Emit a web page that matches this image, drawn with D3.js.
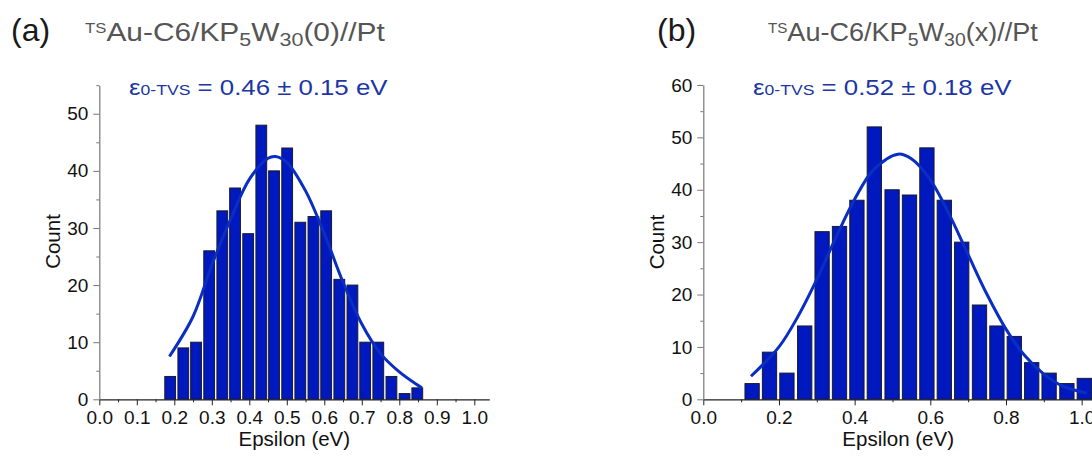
<!DOCTYPE html>
<html><head><meta charset="utf-8">
<script src="https://cdn.jsdelivr.net/npm/d3@7"></script>
<style>
html,body{margin:0;padding:0;background:#fff;}
svg{display:block;font-family:"Liberation Sans",Arial,sans-serif;}
</style></head>
<body><svg id="c" width="1092" height="461"></svg>
<script>
// ---- data ----
const binsA = [0.189,0.224,0.258,0.293,0.328,0.362,0.397,0.432,0.466,0.501,0.536,0.571,0.605,0.640,0.675,0.709,0.744,0.779,0.814,0.848];
const countsA = [4,9,10,26,33,37,29,48,40,44,31,32,33,21,20,10,10,4,1,2];
const fitXA = [0.187,0.25,0.30,0.35,0.40,0.45,0.47,0.50,0.55,0.60,0.65,0.70,0.75,0.80,0.86];
const fitYA = [7.5,14.5,23.5,31.5,38.5,42.2,42.5,41.5,36.5,29,20.5,13.2,8,4.8,2];

const binsB = [0.129,0.175,0.221,0.268,0.314,0.360,0.406,0.452,0.499,0.545,0.591,0.637,0.683,0.730,0.776,0.822,0.868,0.914,0.961,1.007];
const countsB = [3,9,5,14,32,33,38,52,40,39,48,38,30,18,14,12,7,5,3,4];
const fitXB = [0.126,0.20,0.25,0.30,0.35,0.40,0.45,0.515,0.55,0.60,0.65,0.70,0.75,0.80,0.85,0.90,0.95,1.013];
const fitYB = [4.4,10,15.8,22.9,30.8,38.2,43.8,46.8,45.9,41.9,35.3,27.6,20,13.4,8.3,4.8,2.5,1.2];

const xTicksA = [0,0.1,0.2,0.3,0.4,0.5,0.6,0.7,0.8,0.9,1.0];
const xTicksB = [0,0.2,0.4,0.6,0.8,1.0];
const yTicksA = [0,10,20,30,40,50];
const yTicksB = [0,10,20,30,40,50,60];

const svg = d3.select("#c");
const BAR = "#0019BE", FIT = "#0A2EC2", LBL = "#1C36A6";

function stretch(sel, x, y, target){
  const w = sel.node().getBBox().width;
  sel.attr("transform", `translate(${x},${y}) scale(${target/w},1)`);
}

function panel(o){
  const g = svg.append("g");
  const x = d3.scaleLinear().domain(o.xDom).range(o.xRange);
  const y = d3.scaleLinear().domain(o.yDom).range(o.yRange);
  // bars
  const pitch = x(o.bins[1]) - x(o.bins[0]);
  const bw = pitch * 0.82;
  g.append("g").selectAll("rect").data(o.bins.map((b,i)=>[b,o.counts[i]])).join("rect")
    .attr("x", d=>x(d[0]) - bw/2).attr("width", bw)
    .attr("y", d=>y(d[1])).attr("height", d=>y(0)-y(d[1]))
    .attr("fill", BAR).attr("stroke", "#1a1a2a").attr("stroke-width", 1);
  // fit
  const line = d3.line().x(d=>x(d[0])).y(d=>y(d[1])).curve(d3.curveCatmullRom);
  g.append("path").datum(o.fitX.map((v,i)=>[v,o.fitY[i]]))
    .attr("d", line).attr("fill","none").attr("stroke", FIT).attr("stroke-width", 3);
  // x axis
  const xa = g.append("g").attr("transform", `translate(0,${y(0)})`)
    .call(d3.axisBottom(x).tickValues(o.xMinor).tickSize(3).tickFormat(""));
  xa.select(".domain").remove();
  xa.selectAll("line").attr("stroke","#222");
  const xb = g.append("g").attr("transform", `translate(0,${y(0)})`)
    .call(d3.axisBottom(x).tickValues(o.xTicks).tickSize(6).tickSizeOuter(0).tickPadding(5).tickFormat(d3.format(".1f")));
  xb.select(".domain").attr("stroke","#222").attr("stroke-width",1.2);
  xb.selectAll("line").attr("stroke","#222");
  xb.selectAll("text").attr("font-size", 19).attr("fill","#111").attr("font-family","Liberation Sans, Arial, sans-serif");
  // y axis
  const ya = g.append("g").attr("transform", `translate(${x(0)},0)`)
    .call(d3.axisLeft(y).tickValues(o.yMinor).tickSize(3).tickFormat(""));
  ya.select(".domain").remove();
  ya.selectAll("line").attr("stroke","#777");
  const yb = g.append("g").attr("transform", `translate(${x(0)},0)`)
    .call(d3.axisLeft(y).tickValues(o.yTicks).tickSize(6).tickSizeOuter(0).tickPadding(5));
  yb.select(".domain").attr("stroke","#777").attr("stroke-width",1.2);
  yb.selectAll("line").attr("stroke","#777");
  yb.selectAll("text").attr("font-size", 19).attr("fill","#111").attr("font-family","Liberation Sans, Arial, sans-serif");
  // axis titles
  g.append("text").attr("x", (o.xRange[0]+o.xRange[1])/2).attr("y", 446)
    .attr("text-anchor","middle").attr("font-size", 20.5).attr("fill","#111").text("Epsilon (eV)");
  g.append("text").attr("transform", `translate(${o.countX},${o.countY}) rotate(-90)`)
    .attr("text-anchor","middle").attr("font-size", 20.5).attr("fill","#111").text("Count");
  // panel letter
  g.append("text").attr("x", o.letterX).attr("y", 41).attr("font-size", 32).attr("fill","#1a1a1a").text(o.letter);
  // title
  const t = g.append("text").attr("fill","#555").attr("font-size",25);
  t.append("tspan").attr("font-size",14).attr("dy",-8).text("TS");
  t.append("tspan").attr("dy",8).text("Au-C6/KP");
  t.append("tspan").attr("font-size",18).attr("dy",5).text("5");
  t.append("tspan").attr("dy",-5).text("W");
  t.append("tspan").attr("font-size",18).attr("dy",5).text("30");
  t.append("tspan").attr("dy",-5).text(o.titleEnd);
  stretch(t, o.titleX, 41, o.titleW);
  // epsilon label
  const e = g.append("text").attr("fill", LBL).attr("font-size",22);
  e.append("tspan").text("ε");
  e.append("tspan").attr("font-size",15).text("0-TVS");
  e.append("tspan").text(" = " + o.eps);
  stretch(e, o.epsX, 95, o.epsW);
}

panel({bins:binsA, counts:countsA, fitX:fitXA, fitY:fitYA,
  xDom:[0,1.04], xRange:[99.3,489.3], yDom:[0,55], yRange:[399.3,85.2],
  xTicks:xTicksA, xMinor:[0.05,0.15,0.25,0.35,0.45,0.55,0.65,0.75,0.85,0.95],
  yTicks:yTicksA, yMinor:[5,15,25,35,45,55],
  countX:60, countY:241.5, letter:"(a)", letterX:11, titleEnd:"(0)//Pt", titleX:85, titleW:300,
  eps:"0.46 ± 0.15 eV", epsX:129, epsW:259});

panel({bins:binsB, counts:countsB, fitX:fitXB, fitY:fitYB,
  xDom:[0,1.03], xRange:[703.3,1093], yDom:[0,60], yRange:[399.3,85],
  xTicks:xTicksB, xMinor:[0.1,0.3,0.5,0.7,0.9],
  yTicks:yTicksB, yMinor:[5,15,25,35,45,55],
  countX:664, countY:242, letter:"(b)", letterX:657, titleEnd:"(x)//Pt", titleX:768, titleW:270,
  eps:"0.52 ± 0.18 eV", epsX:753, epsW:259});
</script></body></html>
